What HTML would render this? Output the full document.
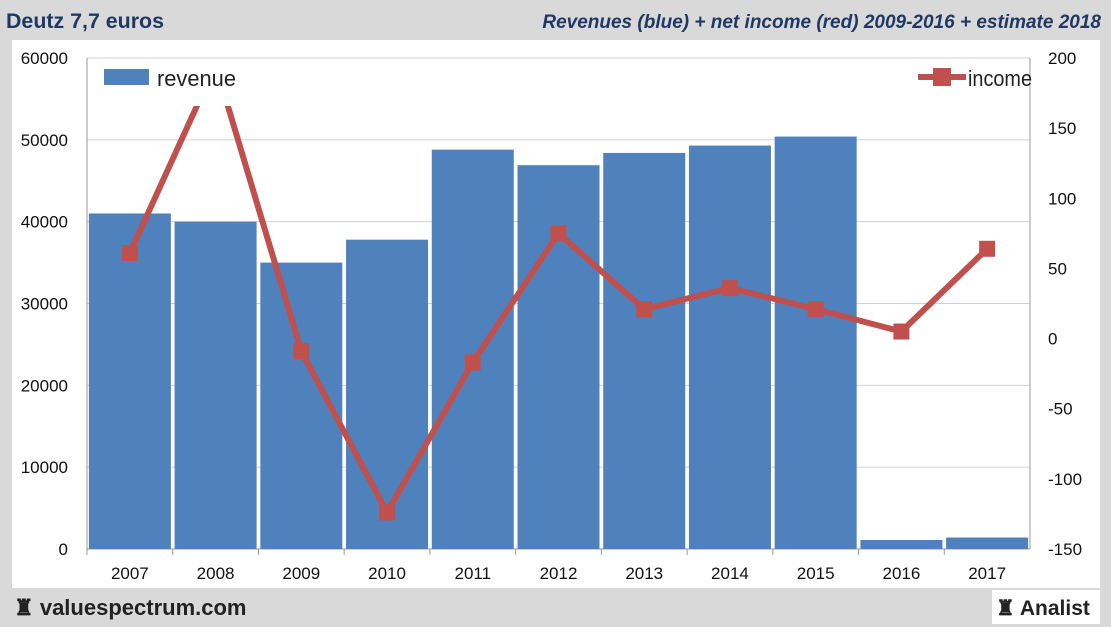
<!DOCTYPE html>
<html><head><meta charset="utf-8"><style>
body{margin:0;width:1111px;height:627px;background:#d9d9d9;overflow:hidden;font-family:"Liberation Sans Narrow","Liberation Sans",sans-serif}
svg{display:block}
</style></head><body>
<svg id="c" width="1111" height="627">
<rect x="0" y="0" width="1111" height="627" fill="#d9d9d9"/>
<rect x="12" y="40" width="1088" height="548" fill="#fff"/>
<text x="6" y="28" font-size="21" font-weight="bold" fill="#1f3864" font-family="Liberation Sans" textLength="158" lengthAdjust="spacingAndGlyphs">Deutz  7,7 euros</text>
<text x="1101" y="28" font-size="19" font-weight="bold" font-style="italic" fill="#1f3864" text-anchor="end" font-family="Liberation Sans">Revenues (blue) + net income (red) 2009-2016 + estimate 2018</text>
<g id="grid"></g><g id="bars"></g><g id="axes"></g>
<defs><clipPath id="clip"><rect x="87" y="106" width="943" height="460"/></clipPath></defs>
<g id="line" clip-path="url(#clip)"></g>
<rect x="104" y="69" width="45" height="16" fill="#4f81bd"/>
<text x="157" y="86" font-size="22" fill="#222" textLength="79" lengthAdjust="spacingAndGlyphs">revenue</text>
<line x1="918" y1="77" x2="966" y2="77" stroke="#c0504d" stroke-width="6"/>
<rect x="933" y="68" width="18" height="18" fill="#c0504d"/>
<text x="968" y="86" font-size="22" fill="#222" textLength="64" lengthAdjust="spacingAndGlyphs">income</text>
<text x="14" y="615" font-size="22" font-weight="bold" fill="#222" font-family="Liberation Sans">♜ valuespectrum.com</text>
<rect x="992" y="590" width="108" height="34" fill="#fff"/>
<text x="996" y="615" font-size="21" font-weight="bold" fill="#222" font-family="Liberation Sans">♜ Analist</text>
</svg>
<script>
const years=["2007","2008","2009","2010","2011","2012","2013","2014","2015","2016","2017"];
const revenue=[41000,40000,35000,37800,48800,46900,48400,49300,50400,1100,1400];
const income=[61,195,-9,-124,-17,75,21,36,21,5,64];
const leftTicks=[0,10000,20000,30000,40000,50000,60000];
const rightTicks=[-150,-100,-50,0,50,100,150,200];
const X0=87,X1=1030,Y0=549,Y1=58,NS="http://www.w3.org/2000/svg";
const step=(X1-X0)/years.length;
const xc=i=>X0+step*(i+0.5);
const yL=v=>Y0-(v/60000)*(Y0-Y1);
const yR=v=>Y0-((v+150)/350)*(Y0-Y1);
function mk(t,a,p){const e=document.createElementNS(NS,t);for(const k in a)e.setAttribute(k,a[k]);document.getElementById(p).appendChild(e);return e;}
leftTicks.forEach(v=>{const y=yL(v);
 const l=mk('line',{x1:X0,x2:X1,y1:y,y2:y,stroke:v===0?'#999':'#d0d0d0','stroke-width':1},'grid');
 
 
 const t=mk('text',{x:68,y:y+6,'font-size':17,'text-anchor':'end',fill:'#111'},'axes');t.textContent=v;
 
 });
rightTicks.forEach(v=>{const y=yR(v);
 const t=mk('text',{x:1048,y:y+6,'font-size':17,fill:'#111'},'axes');t.textContent=v;
 
 });
mk('line',{x1:X0,x2:X0,y1:Y1,y2:Y0,stroke:'#999'},'axes');
mk('line',{x1:X1,x2:X1,y1:Y1,y2:Y0,stroke:'#999'},'axes');
years.forEach((yr,i)=>{
 const b=mk('rect',{x:xc(i)-41,y:yL(revenue[i]),width:82,height:Y0-yL(revenue[i]),fill:'#4f81bd'},'bars');
 
 
 mk('line',{x1:X0+step*i,x2:X0+step*i,y1:Y0,y2:Y0+6,stroke:'#999'},'axes');
 const t=mk('text',{x:xc(i),y:Y0+30,'font-size':17,'text-anchor':'middle',fill:'#111'},'axes');t.textContent=yr;
 
 });
const pl=mk('polyline',{points:income.map((v,i)=>xc(i)+','+yR(v)).join(' '),fill:'none',stroke:'#c0504d','stroke-width':6,'stroke-linejoin':'round'},'line');


income.forEach((v,i)=>{const m=mk('rect',{x:xc(i)-8,y:yR(v)-8,width:16,height:16,fill:'#c0504d'},'line');
 
 });
</script>
</body></html>
